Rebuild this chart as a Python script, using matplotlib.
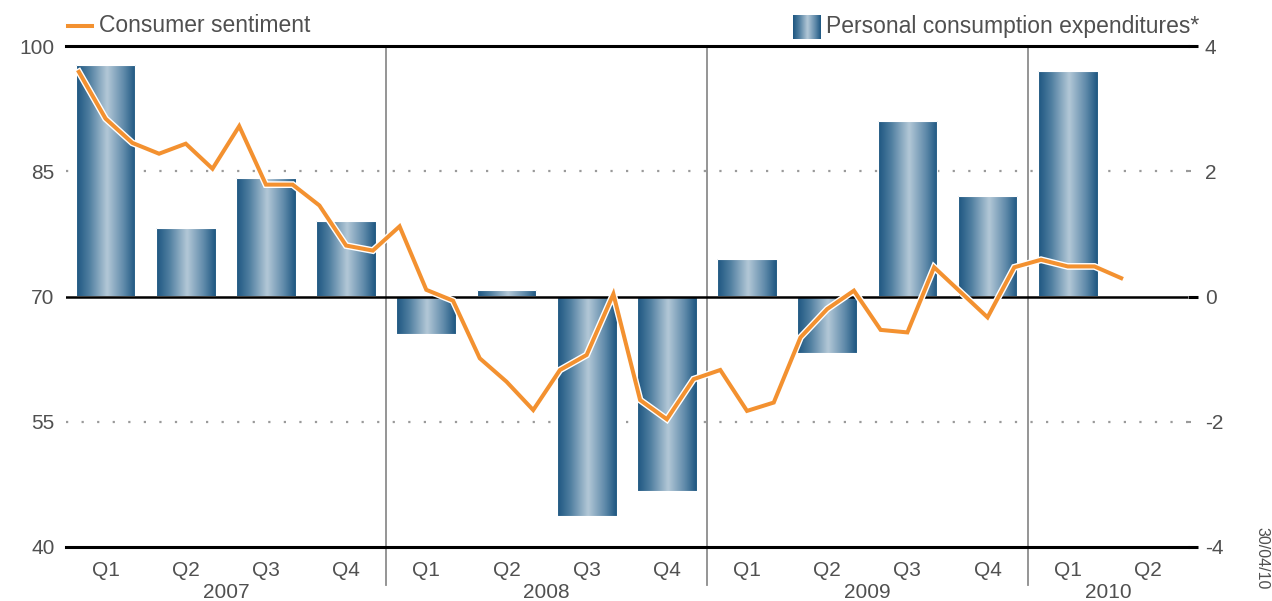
import matplotlib
matplotlib.use("Agg")
import matplotlib.pyplot as plt
import matplotlib.patheffects as pe
import matplotlib.transforms as mtransforms
from matplotlib.colors import LinearSegmentedColormap
import numpy as np

plt.rcParams['font.family'] = ['Liberation Sans', 'DejaVu Sans']

# quarterly personal consumption expenditures (% change), 2007 Q1 .. 2010 Q1
quarters = ['Q1', 'Q2', 'Q3', 'Q4'] * 3 + ['Q1', 'Q2']
years = ['2007', '2008', '2009', '2010']
pce = [3.7, 1.1, 1.9, 1.2,
       -0.6, 0.1, -3.5, -3.1,
       0.6, -0.9, 2.8, 1.6,
       3.6]

# monthly consumer sentiment, Jan 2007 .. Apr 2010
sentiment = [96.9, 91.3, 88.4, 87.1, 88.3, 85.3, 90.4, 83.4, 83.4, 80.9, 76.1, 75.5,
             78.4, 70.8, 69.5, 62.6, 59.8, 56.4, 61.2, 63.0, 70.3, 57.6, 55.3, 60.1,
             61.2, 56.3, 57.3, 65.1, 68.5, 70.7, 66.0, 65.7, 73.5, 70.5, 67.5, 73.5,
             74.4, 73.6, 73.6, 72.2]

W, H = 1272, 601
txt = '#505050'
orange = '#f39130'
dark = '#1c5580'
light = '#b3c8d7'

fig = plt.figure(figsize=(W / 100, H / 100), dpi=100)
ax = fig.add_axes([65.5 / W, 1 - 547 / H, (1188 - 65.5) / W, (547 - 46) / H])
ax2 = ax.twinx()

cmap = LinearSegmentedColormap.from_list(
    'bar', [(0, dark), (0.22, '#4f7ea0'), (0.52, light), (0.8, '#5f8aaa'), (1, dark)])
grad = np.linspace(0, 1, 256).reshape(1, -1)

xq = np.arange(len(pce)) + 0.5
bars = ax.bar(xq, pce, width=0.745, facecolor='none', edgecolor='white', lw=0.8, zorder=3)
for b in bars:
    x0, y0 = b.get_x(), b.get_y()
    x1, y1 = x0 + b.get_width(), y0 + b.get_height()
    im = ax.imshow(grad, cmap=cmap, aspect='auto', interpolation='bicubic',
                   extent=[x0, x1, min(y0, y1), max(y0, y1)], zorder=2)
    im.set_clip_path(b)

ax.set_xlim(0, 14)
ax.set_ylim(-4, 4)

# grid / reference lines
ax.axhline(0, color='black', lw=1.8, zorder=4)
for g in (-2, 2):
    ax.axhline(g, color='#9a9a9a', lw=1.6, ls=(0, (1, 6)), zorder=1)
trans = mtransforms.blended_transform_factory(ax.transData, ax.transAxes)
for xv in (4, 8, 12):
    ax.plot([xv, xv], [-0.075, 1], color='#8c8c8c', lw=1.3, transform=trans,
            clip_on=False, zorder=1)

for s in ('left', 'right'):
    ax.spines[s].set_visible(False)
for s in ('top', 'bottom'):
    ax.spines[s].set_linewidth(2.2)
    ax.spines[s].set_color('black')

# right axis ticks (bars)
ax.yaxis.tick_right()
ax.set_yticks([-4, 0, 4])
ax.set_yticks([-2, 2], minor=True)
ax.set_yticklabels(['-4', '0', '4'])
ax.set_yticklabels(['-2', '2'], minor=True)
ax.tick_params(axis='y', which='major', length=7, width=2.2, color='black',
               pad=5, labelsize=15, labelcolor=txt)
ax.tick_params(axis='y', which='minor', length=2, width=1.5, color='#9a9a9a',
               pad=10, labelsize=15, labelcolor=txt)

# x axis labels
ax.set_xticks(xq.tolist() + [13.5])
ax.set_xticklabels(quarters)
ax.tick_params(axis='x', length=0, pad=10, labelsize=15, labelcolor=txt)
year_centers = [2, 6, 10, 13]
for yc, yl in zip(year_centers, years):
    ax.text(yc, -0.072, yl, transform=trans, ha='center', va='top',
            fontsize=15, color=txt)

# line on the left axis
xm = np.arange(len(sentiment)) / 3 + 1 / 6
ax2.plot(xm, sentiment, color=orange, lw=2.9, zorder=5, solid_joinstyle='miter',
         path_effects=[pe.Stroke(linewidth=4.9, foreground='white'), pe.Normal()])
ax2.set_ylim(40, 100)
ax2.set_xlim(0, 14)
for s in ax2.spines.values():
    s.set_visible(False)
ax2.yaxis.tick_left()
ax2.yaxis.set_label_position('left')
ax2.set_yticks([40, 55, 70, 85, 100])
ax2.tick_params(axis='y', length=0, pad=8, labelsize=15, labelcolor=txt)

# legends
fig.add_artist(plt.Line2D([68 / W, 92 / W], [1 - 26 / H] * 2, color=orange, lw=2.9))
fig.text(99 / W, 1 - 26 / H, 'Consumer sentiment', fontsize=16.5, color=txt,
         ha='left', va='center')
lax = fig.add_axes([793 / W, 1 - 39 / H, 27 / W, 24 / H])
lax.imshow(grad, cmap=cmap, aspect='auto', interpolation='bicubic')
lax.axis('off')
fig.text(826 / W, 1 - 26 / H, 'Personal consumption expenditures*', fontsize=16.5,
         color=txt, ha='left', va='center')

fig.text(1262 / W, 1 - 558 / H, '30/04/10', rotation=-90, fontsize=11.5, color=txt,
         ha='center', va='center')

fig.savefig('out.png', dpi=100)
